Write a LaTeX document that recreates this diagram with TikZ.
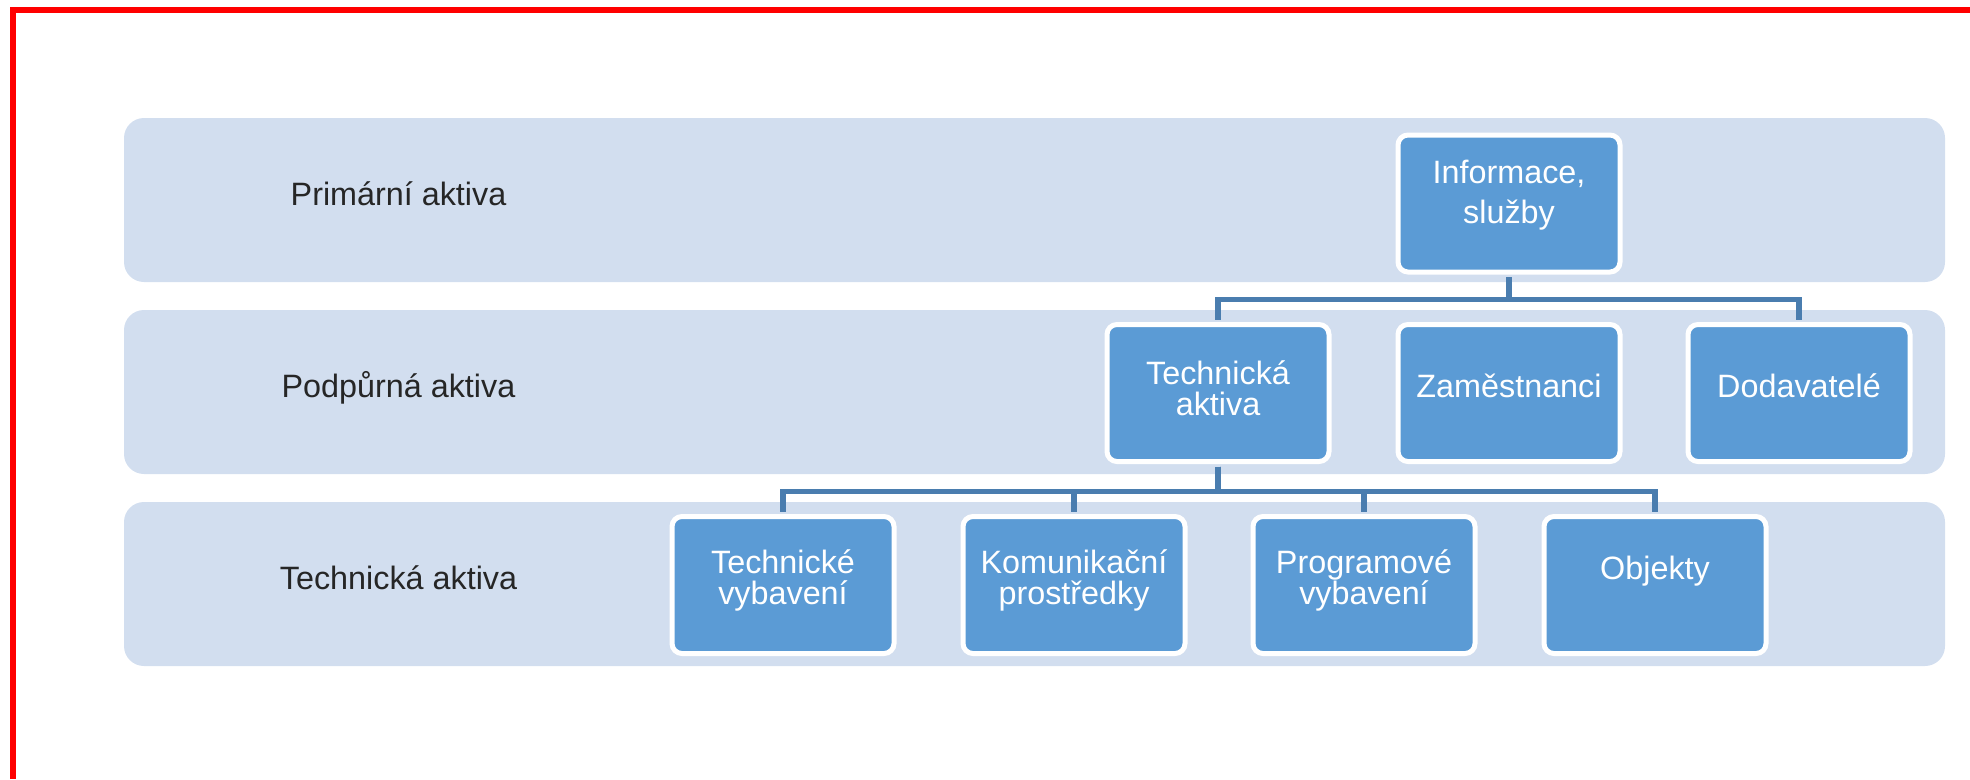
\documentclass[tikz,border=0pt]{standalone}
\usepackage{fontspec}
\setmainfont{Liberation Sans}
\usepackage{xcolor}
\usetikzlibrary{positioning,calc}
\definecolor{bandfill}{HTML}{D2DEEF}
\definecolor{boxfill}{HTML}{5B9BD5}
\definecolor{linkblue}{HTML}{4A7DAF}
\definecolor{labelgray}{HTML}{262626}

\begin{document}
\begin{tikzpicture}[
    band/.style={fill=bandfill, rounded corners=0.2cm, minimum width=18.21cm, minimum height=1.64cm, inner sep=0pt},
    level/.style={text=labelgray, font=\fontsize{9.2}{11}\selectfont, anchor=base, inner sep=0pt},
    asset/.style={fill=boxfill, draw=white, line width=0.05cm, rounded corners=0.1cm, minimum width=2.22cm, minimum height=1.37cm, inner sep=0pt},
    assettext/.style={text=white, align=center, inner sep=0pt, font=\fontsize{9.2}{8.8}\selectfont},
    link/.style={draw=linkblue, line width=0.055cm, shorten <=0.025cm, shorten >=0.025cm},
    frame/.style={draw=red, line width=0.06cm}
]
    \useasboundingbox (0,0) rectangle (19.70,-7.79);
    % Frame
    \draw[frame] (0.13,-7.79) -- (0.13,-0.10) -- (19.70,-0.10);
    % Bands
    \node[band] (bandP) at (10.345,-2.00) {};
    \node[band] (bandS) at (10.345,-3.92) {};
    \node[band] (bandT) at (10.345,-5.84) {};
    \node[level] (levP) at (3.985,-2.05) {Primární aktiva};
    \node[level] (levS) at (3.985,-3.97) {Podpůrná aktiva};
    \node[level] (levT) at (3.985,-5.89) {Technická aktiva};
    % Boxes
    \node[asset] (info) at (15.09,-2.035) {};
    \node[asset] (techA) at (12.18,-3.93) {};
    \node[asset] (staff) at (15.09,-3.93) {};
    \node[asset] (supp) at (17.99,-3.93) {};
    \foreach \name/\x in {hw/7.83, comm/10.74, sw/13.64, obj/16.55}
        \node[asset] (\name) at (\x,-5.85) {};
    % Box texts
    \node[assettext, font=\fontsize{9.2}{11.3}\selectfont] (infoT) at ([yshift=0.085cm]info.center) {Informace,\\služby};
    \node[assettext] (techAT) at ([yshift=0.045cm]techA.center) {Technická\\aktiva};
    \node[assettext] (staffT) at ([yshift=0.07cm]staff.center) {Zaměstnanci};
    \node[assettext] (suppT) at ([yshift=0.07cm]supp.center) {Dodavatelé};
    \node[assettext] (hwT) at ([yshift=0.045cm]hw.center) {Technické\\vybavení};
    \node[assettext] (commT) at ([yshift=0.045cm]comm.center) {Komunikační\\prostředky};
    \node[assettext] (swT) at ([yshift=0.045cm]sw.center) {Programové\\vybavení};
    \node[assettext] (objT) at ([yshift=0.14cm]obj.center) {Objekty};
    % Links
    \draw[link] (info.south) -- ++(0,-0.25) -| (techA.north);
    \draw[link] (info.south) -- ++(0,-0.25) -| (supp.north);
    \foreach \name in {hw,comm,sw,obj}
        \draw[link] (techA.south) -- ++(0,-0.275) -| (\name.north);
\end{tikzpicture}
\end{document}
